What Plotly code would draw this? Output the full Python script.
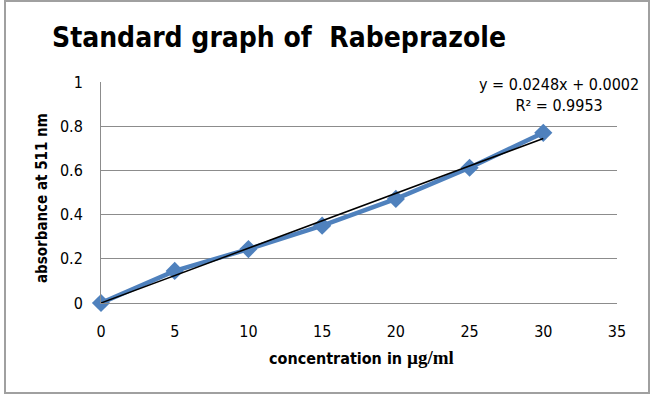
import plotly.graph_objects as go

# Data
concentration = [0, 5, 10, 15, 20, 25, 30]
absorbance = [0.0, 0.145, 0.244, 0.350, 0.471, 0.612, 0.770]
slope = 0.0248
intercept = 0.0002
r_squared = 0.9953
x_ticks = [0, 5, 10, 15, 20, 25, 30, 35]
y_ticks = [0, 0.2, 0.4, 0.6, 0.8, 1]

trend_x = [concentration[0], concentration[-1]]
trend_y = [slope * v + intercept for v in trend_x]

FONT = "DejaVu Sans Condensed, Liberation Sans Narrow, DejaVu Sans"
W, H = 656, 396
L, R, T, B = 101, 39, 82, 93
pw, ph = W - L - R, H - T - B

def px(x):
    return (x - L) / pw

def py(y):
    return (H - B - y) / ph

def f(size, **kw):
    return dict(size=size, family=FONT, color="black", **kw)

fig = go.Figure()
fig.add_trace(go.Scatter(
    x=concentration, y=absorbance, mode="lines+markers",
    line=dict(color="#4F81BD", width=4.5),
    marker=dict(symbol="diamond", size=14, color="#4F81BD"),
    showlegend=False, cliponaxis=False,
))
fig.add_trace(go.Scatter(
    x=trend_x, y=trend_y, mode="lines",
    line=dict(color="black", width=1.5),
    showlegend=False, cliponaxis=False,
))

fig.update_layout(
    width=W, height=H, autosize=False,
    margin=dict(l=L, r=R, t=T, b=B),
    paper_bgcolor="white", plot_bgcolor="white",
    font=f(15),
    xaxis=dict(range=[0, 35], tickvals=x_ticks, showgrid=False,
               showline=True, linecolor="#8C8C8C", linewidth=1,
               zeroline=False, ticks="outside", ticklen=14, tickcolor="rgba(0,0,0,0)",
               tickfont=f(16)),
    yaxis=dict(range=[0, 1], tickvals=y_ticks, showgrid=True,
               gridcolor="#8C8C8C", gridwidth=1, zeroline=False,
               showline=True, linecolor="#8C8C8C", linewidth=1,
               ticks="outside", ticklen=14, tickcolor="rgba(0,0,0,0)",
               tickfont=f(16)),
)

fig.add_annotation(text="<b>Standard graph of  Rabeprazole</b>",
                   xref="paper", yref="paper", x=px(50), y=py(37),
                   xanchor="left", yanchor="middle", showarrow=False,
                   font=f(28))
fig.add_annotation(text="<b>absorbance at 511 nm</b>", textangle=-90,
                   xref="paper", yref="paper", x=px(42), y=py(198),
                   xanchor="center", yanchor="middle", showarrow=False,
                   font=f(15))
fig.add_annotation(
    text="<b>concentration in </b><span style=\"font-family:'Liberation Serif';font-size:19px\"><b>µg/ml</b></span>",
    xref="paper", yref="paper", x=px(361), y=py(357),
    xanchor="center", yanchor="middle", showarrow=False,
    font=f(16))
fig.add_annotation(
    text=f"y = {slope}x + {intercept:.4f}<br>R² = {r_squared}",
    xref="paper", yref="paper", x=px(559), y=py(95),
    xanchor="center", yanchor="middle", align="center", showarrow=False,
    font=f(16))

fig.add_shape(type="rect", xref="paper", yref="paper",
              x0=px(5), x1=px(649), y0=py(393), y1=py(1),
              line=dict(color="#A0A0A0", width=2), layer="below")

fig.write_html("out.html")
